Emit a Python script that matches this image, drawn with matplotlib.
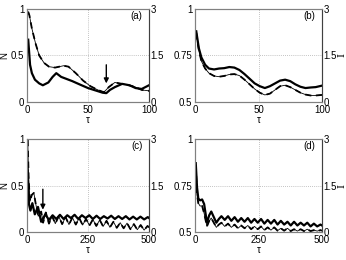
import matplotlib
matplotlib.use("Agg")
import matplotlib.pyplot as plt

plt.rcParams['font.family'] = ['Liberation Sans', 'DejaVu Sans']
plt.rcParams['font.size'] = 7

# ---- data ----
a_tau = [1, 2.5, 4, 6.5, 10, 13, 17.5, 21, 24, 28, 32, 37, 43, 50, 56, 62, 65, 68, 72, 78, 84, 89, 94, 100]
a_solid = [0.67, 0.40, 0.31, 0.24, 0.20, 0.18, 0.21, 0.27, 0.31, 0.27, 0.25, 0.225, 0.19, 0.15, 0.125, 0.10, 0.095, 0.13, 0.16, 0.195, 0.18, 0.15, 0.14, 0.18]
a_tau_d = [1, 2, 4, 7, 10, 14, 18, 23, 30, 34, 40, 46, 52, 58, 63, 67, 72, 76, 82, 88, 94, 100]
a_dash = [0.97, 0.93, 0.79, 0.63, 0.50, 0.42, 0.38, 0.37, 0.39, 0.38, 0.31, 0.23, 0.17, 0.13, 0.105, 0.16, 0.21, 0.20, 0.185, 0.165, 0.13, 0.12]

b_tau = [1, 3, 5, 8, 11, 15, 19, 23, 27, 31, 35, 39, 43, 47, 51, 55, 59, 63, 67, 71, 75, 79, 83, 87, 91, 95, 100]
b_solid = [0.88, 0.79, 0.74, 0.70, 0.68, 0.675, 0.68, 0.682, 0.688, 0.685, 0.672, 0.65, 0.625, 0.60, 0.585, 0.575, 0.585, 0.60, 0.615, 0.62, 0.612, 0.595, 0.582, 0.575, 0.578, 0.58, 0.588]
b_dash = [0.87, 0.78, 0.72, 0.68, 0.655, 0.64, 0.636, 0.64, 0.648, 0.65, 0.642, 0.62, 0.595, 0.57, 0.55, 0.538, 0.545, 0.565, 0.585, 0.59, 0.58, 0.565, 0.55, 0.54, 0.535, 0.535, 0.538]

c_tau_s = [3, 8, 14, 22, 32, 45, 58, 75, 90, 105, 120, 135, 150, 165, 180, 195, 210, 225, 240, 255, 270, 285, 300, 315, 330, 345, 360, 375, 390, 405, 420, 435, 450, 465, 480, 495, 500]
c_solid = [0.66, 0.30, 0.23, 0.31, 0.19, 0.27, 0.11, 0.19, 0.13, 0.18, 0.14, 0.185, 0.14, 0.18, 0.15, 0.185, 0.14, 0.18, 0.15, 0.18, 0.14, 0.175, 0.14, 0.17, 0.145, 0.175, 0.14, 0.17, 0.14, 0.17, 0.135, 0.165, 0.135, 0.165, 0.135, 0.16, 0.15]
c_tau_d = [3, 7, 12, 20, 28, 36, 46, 58, 66, 77, 90, 103, 116, 130, 144, 158, 172, 186, 200, 214, 228, 242, 256, 270, 284, 298, 312, 326, 340, 354, 368, 382, 396, 410, 424, 438, 452, 466, 480, 494, 500]
c_dash = [0.99, 0.55, 0.33, 0.40, 0.42, 0.30, 0.17, 0.22, 0.10, 0.21, 0.09, 0.17, 0.09, 0.17, 0.085, 0.16, 0.08, 0.155, 0.08, 0.15, 0.075, 0.14, 0.07, 0.135, 0.065, 0.13, 0.06, 0.12, 0.05, 0.11, 0.045, 0.10, 0.04, 0.095, 0.03, 0.085, 0.025, 0.075, 0.02, 0.065, 0.05]

d_tau = [3, 8, 13, 20, 28, 36, 47, 56, 64, 74, 84, 94, 104, 117, 130, 143, 156, 169, 182, 195, 208, 221, 234, 247, 260, 273, 286, 299, 312, 325, 338, 351, 364, 377, 390, 403, 416, 429, 442, 455, 468, 481, 494, 500]
d_solid = [0.87, 0.74, 0.68, 0.67, 0.675, 0.65, 0.55, 0.59, 0.61, 0.58, 0.55, 0.57, 0.585, 0.565, 0.585, 0.56, 0.58, 0.555, 0.575, 0.555, 0.575, 0.55, 0.57, 0.55, 0.57, 0.545, 0.565, 0.545, 0.565, 0.54, 0.56, 0.54, 0.555, 0.535, 0.555, 0.535, 0.55, 0.535, 0.55, 0.53, 0.545, 0.53, 0.54, 0.535]
d_dash = [0.86, 0.70, 0.655, 0.64, 0.64, 0.60, 0.53, 0.56, 0.575, 0.55, 0.525, 0.54, 0.55, 0.53, 0.545, 0.525, 0.54, 0.52, 0.535, 0.52, 0.535, 0.515, 0.53, 0.515, 0.53, 0.51, 0.525, 0.51, 0.525, 0.507, 0.52, 0.507, 0.52, 0.505, 0.515, 0.505, 0.515, 0.505, 0.515, 0.505, 0.51, 0.505, 0.51, 0.507]

panels = ['(a)', '(b)', '(c)', '(d)']
xmax = [100, 100, 500, 500]
xticks = [[0, 50, 100], [0, 50, 100], [0, 250, 500], [0, 250, 500]]
ylims = [(0, 1), (0.5, 1), (0, 1), (0.5, 1)]
yticks = [[0, 0.5, 1], [0.5, 0.75, 1], [0, 0.5, 1], [0.5, 0.75, 1]]
ytlabels = [['0', '0.5', '1'], ['0.5', '0.75', '1'], ['0', '0.5', '1'], ['0.5', '0.75', '1']]
rticks = [0, 1.5, 3]
rtlabels = ['0', '1.5', '3']
arrows = {0: (65, 0.40, 0.20), 2: (65, 0.46, 0.24)}

series = [
    (a_tau, a_solid, a_tau_d, a_dash),
    (b_tau, b_solid, b_tau, b_dash),
    (c_tau_s, c_solid, c_tau_d, c_dash),
    (d_tau, d_solid, d_tau, d_dash),
]

W, H = 346, 260
fig = plt.figure(figsize=(W / 100, H / 100), dpi=100)
boxes = [(27, 9, 149, 102), (195, 9, 322, 102), (27, 139, 149, 232), (195, 139, 322, 232)]
spine_col = '#808080'

for i, (x0, y0, x1, y1) in enumerate(boxes):
    ax = fig.add_axes([x0 / W, 1 - y1 / H, (x1 - x0) / W, (y1 - y0) / H])
    ts, s, td, d = series[i]
    ax.plot(td, d, color='black', lw=0.6, zorder=3)
    ax.plot(td, d, color='black', lw=1.3, dashes=(3.5, 2.5), zorder=3)
    ax.plot(ts, s, color='black', lw=1.6, zorder=4)
    ax.set_xlim(0, xmax[i])
    ax.set_ylim(*ylims[i])
    ax.set_xticks(xticks[i])
    ax.set_yticks(yticks[i])
    ax.set_yticklabels(ytlabels[i])
    ax.tick_params(length=0, pad=2, labelsize=7)
    ax.grid(True, color='#b0b0b0', linestyle=(0, (1, 1.5)), lw=0.6)
    for sp in ax.spines.values():
        sp.set_color(spine_col)
        sp.set_linewidth(0.8)
    ax.set_xlabel('τ', fontsize=7, labelpad=0)
    if i in (0, 2):
        ax.set_ylabel('N', fontsize=7, labelpad=1)
    ax.text(0.90, 0.93, panels[i], transform=ax.transAxes, ha='center', va='center', fontsize=7)
    if i in arrows:
        xa, ya0, ya1 = arrows[i]
        ax.annotate('', xy=(xa, ya1), xytext=(xa, ya0),
                    arrowprops=dict(arrowstyle='-|>', color='black', lw=1.0,
                                    mutation_scale=7, shrinkA=0, shrinkB=0))
    ax2 = ax.twinx()
    ax2.set_ylim(0, 3)
    ax2.set_yticks(rticks)
    ax2.set_yticklabels(rtlabels)
    ax2.tick_params(length=0, pad=1, labelsize=7)
    for sp in ax2.spines.values():
        sp.set_color(spine_col)
        sp.set_linewidth(0.8)
    ax2.spines['right'].set_color('#404040')
    if i in (1, 3):
        ax2.set_ylabel('I', fontsize=7, family='DejaVu Serif', rotation=90, va='center')
        ax2.yaxis.set_label_coords(1.155, 0.5)

fig.savefig('out.png', dpi=100)
